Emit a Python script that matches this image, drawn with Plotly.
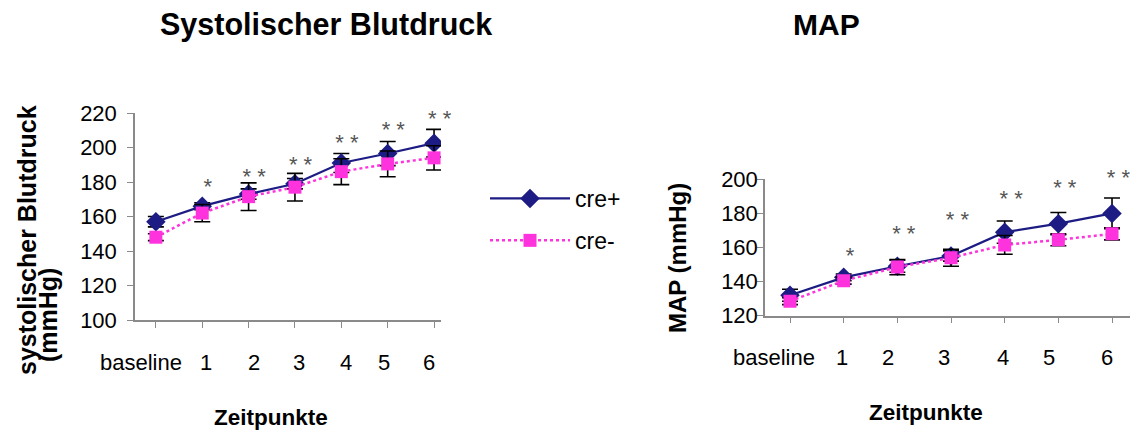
import plotly.graph_objects as go

# ---- data ----
categories = ["baseline", "1", "2", "3", "4", "5", "6"]
x_idx = list(range(len(categories)))

sys_cre_plus = [157, 166, 173, 179, 191, 196.5, 202.5]
sys_cre_plus_err = [3, 2, 3, 3, 5.5, 7, 8]
sys_cre_minus = [148, 162, 171.5, 177, 186, 190.5, 194]
sys_cre_minus_err = [2, 5, 8, 8, 7.5, 7.5, 7]

map_cre_plus = [132, 142.5, 149, 155, 169, 174, 180]
map_cre_plus_err = [3.5, 2, 3.5, 3, 6.5, 6.5, 9]
map_cre_minus = [128.5, 140.5, 148.5, 154, 161.5, 164.5, 168]
map_cre_minus_err = [2, 2, 4.5, 5, 5.5, 3.5, 3.5]

star_text = ["", "*", "* *", "* *", "* *", "* *", "* *"]
sys_star_y = [None, 176, 182, 189, 202, 209, 215.5]
map_star_y = [None, 154, 167, 175, 187.5, 194, 200]

# styling: horizontal pixel nudges of the category labels (as in the original)
left_label_nudge = [-15, 4, 5, 4, 5, -4, -5]
right_label_nudge = [-16, -2, -9, -7, -2, -9, -5]

FONT = "Liberation Sans, Arial, sans-serif"
NAVY = "#1c1c84"
PINK = "#ff33dd"
AXC = "#8a8a8a"

fig = go.Figure()

def add_series(xa, ya, y_plus, e_plus, y_minus, e_minus, stars_y, show):
    fig.add_trace(go.Scatter(
        x=x_idx, y=y_plus, xaxis=xa, yaxis=ya, name="cre+", legendgroup="a",
        showlegend=show, mode="lines+markers",
        line=dict(color=NAVY, width=2.2),
        marker=dict(symbol="diamond", size=15, color=NAVY),
        error_y=dict(type="data", array=e_plus, color="black", thickness=1.6, width=8),
    ))
    fig.add_trace(go.Scatter(
        x=x_idx, y=y_minus, xaxis=xa, yaxis=ya, name="cre-", legendgroup="b",
        showlegend=show, mode="lines+markers",
        line=dict(color=PINK, width=2.5, dash="dot"),
        marker=dict(symbol="square", size=13, color=PINK),
        error_y=dict(type="data", array=e_minus, color="black", thickness=1.6, width=8),
    ))
    fig.add_trace(go.Scatter(
        x=[x + 0.12 for x in x_idx], y=stars_y, xaxis=xa, yaxis=ya, mode="text",
        text=star_text, textposition="middle center", showlegend=False, cliponaxis=False,
        textfont=dict(family=FONT, size=22, color="#555555"), hoverinfo="skip",
    ))

add_series("x", "y", sys_cre_plus, sys_cre_plus_err, sys_cre_minus, sys_cre_minus_err,
           sys_star_y, True)
add_series("x2", "y2", map_cre_plus, map_cre_plus_err, map_cre_minus, map_cre_minus_err,
           map_star_y, False)

annotations = []
# category labels under each x axis
for xr, yr, nudges in (("x", "y domain", left_label_nudge), ("x2", "y2 domain", right_label_nudge)):
    for i, lab in enumerate(categories):
        annotations.append(dict(x=i, y=0, xref=xr, yref=yr, text=lab, showarrow=False,
                                xanchor="center", yanchor="middle", xshift=nudges[i], yshift=-42,
                                font=dict(family=FONT, size=22, color="black")))

def ptxt(text, px, py, size, angle=0):
    return dict(text=text, x=px/1130, y=1 - py/433, xref="paper", yref="paper",
                xanchor="center", yanchor="middle", showarrow=False, textangle=angle,
                font=dict(family=FONT, size=size, color="black"))

annotations += [
    ptxt("<b>Systolischer Blutdruck</b>", 326, 25, 30.5),
    ptxt("<b>MAP</b>", 826, 25, 30),
    ptxt("<b>systolischer Blutdruck</b>", 27, 240, 25, -90),
    ptxt("<b>(mmHg)</b>", 48, 315, 25, -90),
    ptxt("<b>MAP (mmHg)</b>", 677, 258, 24, -90),
    ptxt("<b>Zeitpunkte</b>", 271, 417, 22.5),
    ptxt("<b>Zeitpunkte</b>", 926, 412, 22.5),
]

tickfont = dict(family=FONT, size=22, color="black")
xcommon = dict(tickmode="array", tickvals=x_idx, ticktext=categories, showticklabels=False,
               showgrid=False, zeroline=False, showline=True, linecolor=AXC, linewidth=1.5,
               ticks="outside", ticklen=6, tickcolor=AXC, automargin=False)
ycommon = dict(showgrid=False, zeroline=False, showline=True, linecolor=AXC, linewidth=1.5,
               ticks="outside", ticklen=6, tickcolor=AXC, tickfont=tickfont, dtick=20,
               automargin=False)

fig.update_layout(
    width=1130, height=433, autosize=False,
    margin=dict(l=0, r=0, t=0, b=0, autoexpand=False),
    paper_bgcolor="white", plot_bgcolor="white",
    font=dict(family=FONT, color="black"),
    xaxis=dict(domain=[135/1130, 441/1130], range=[-0.45, 6.15], anchor="y", **xcommon),
    yaxis=dict(domain=[1 - 320/433, 1 - 113/433], range=[100, 220], anchor="x",
               ticklabelstandoff=6, **ycommon),
    xaxis2=dict(domain=[765/1130, 1.0], range=[-0.466, 6.335], anchor="y2", **xcommon),
    yaxis2=dict(domain=[1 - 315.7/433, 1 - 179.3/433], range=[120, 200], anchor="x2",
                ticklabelstandoff=-5, **ycommon),
    legend=dict(x=485/1130, y=1 - 177/433, xanchor="left", yanchor="top",
                font=dict(family=FONT, size=23, color="black"), bgcolor="rgba(0,0,0,0)",
                itemwidth=80, tracegroupgap=9, traceorder="grouped"),
    annotations=annotations,
    showlegend=True,
)

fig.write_html("out.html", config={"displayModeBar": False},
               post_script="document.body.style.margin='0';document.body.style.overflow='hidden';")
